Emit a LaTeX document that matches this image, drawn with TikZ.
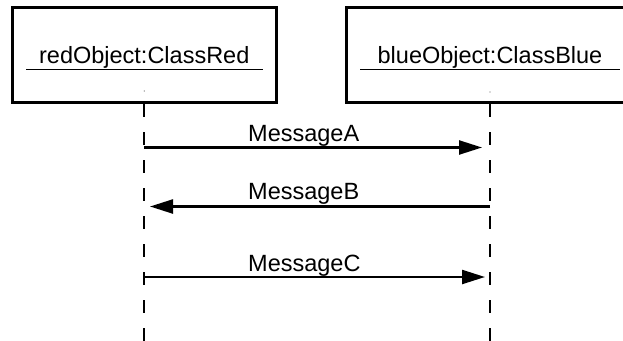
\documentclass[tikz,border=0pt]{standalone}
\usepackage{fontspec}
\setmainfont{Liberation Sans}
\usetikzlibrary{arrows.meta}
\tikzset{
  objbox/.style={draw=black, line width=3pt, inner sep=0pt, outer sep=0pt, fill=white},
  objlabel/.style={inner sep=0pt, font=\fontsize{23.5}{28}\selectfont},
  msglabel/.style={inner sep=0pt, anchor=base west, font=\fontsize{23.5}{28}\selectfont},
  underl/.style={line width=1.3pt},
  lifeline/.style={line width=1.6pt, dash pattern=on 13pt off 15pt, dash phase=26pt},
  msg/.style={line width=2.3pt, -{Triangle[length=23pt,width=14pt]}},
  dotmark/.style={circle, fill=black!60, inner sep=0pt, minimum size=1.4pt}
}
\begin{document}
\begin{tikzpicture}[x=1pt,y=-1pt]
\useasboundingbox (0,0) rectangle (623,340);
% object boxes
\node[objbox, minimum width=264.5pt, minimum height=94.5pt] (red) at (144.25,54.75) {};
\node[objbox, minimum width=287pt, minimum height=94.5pt] (blue) at (490,54.75) {};
\node[objlabel, anchor=base] (redlbl) at (144.25,63.3) {redObject:ClassRed};
\node[objlabel, anchor=base] (bluelbl) at (490,63.3) {blueObject:ClassBlue};
\draw[underl] (26,69.3) -- (263,69.3);
\draw[underl] (360,69.3) -- (620,69.3);
\node[dotmark] (reddot) at (144.25,91) {};
\node[dotmark] (bluedot) at (490,92) {};
% lifelines
\coordinate (redend) at (144.25,342);
\coordinate (blueend) at (490,342);
\draw[lifeline] (red.south) -- (redend);
\draw[lifeline] (blue.south) -- (blueend);
% message endpoints
\coordinate (aS) at (144.25,147.5);
\coordinate (aT) at (482,147.5);
\coordinate (bS) at (490,206.5);
\coordinate (bT) at (150,206.5);
\coordinate (cS) at (144.25,277);
\coordinate (cT) at (485,277);
\draw[msg] (aS) -- (aT);
\draw[msg] (bS) -- (bT);
\draw[msg] (cS) -- (cT);
\node[msglabel] (lblA) at (248,141.7) {MessageA};
\node[msglabel] (lblB) at (248,199) {MessageB};
\node[msglabel] (lblC) at (248,271.7) {MessageC};
\end{tikzpicture}
\end{document}
